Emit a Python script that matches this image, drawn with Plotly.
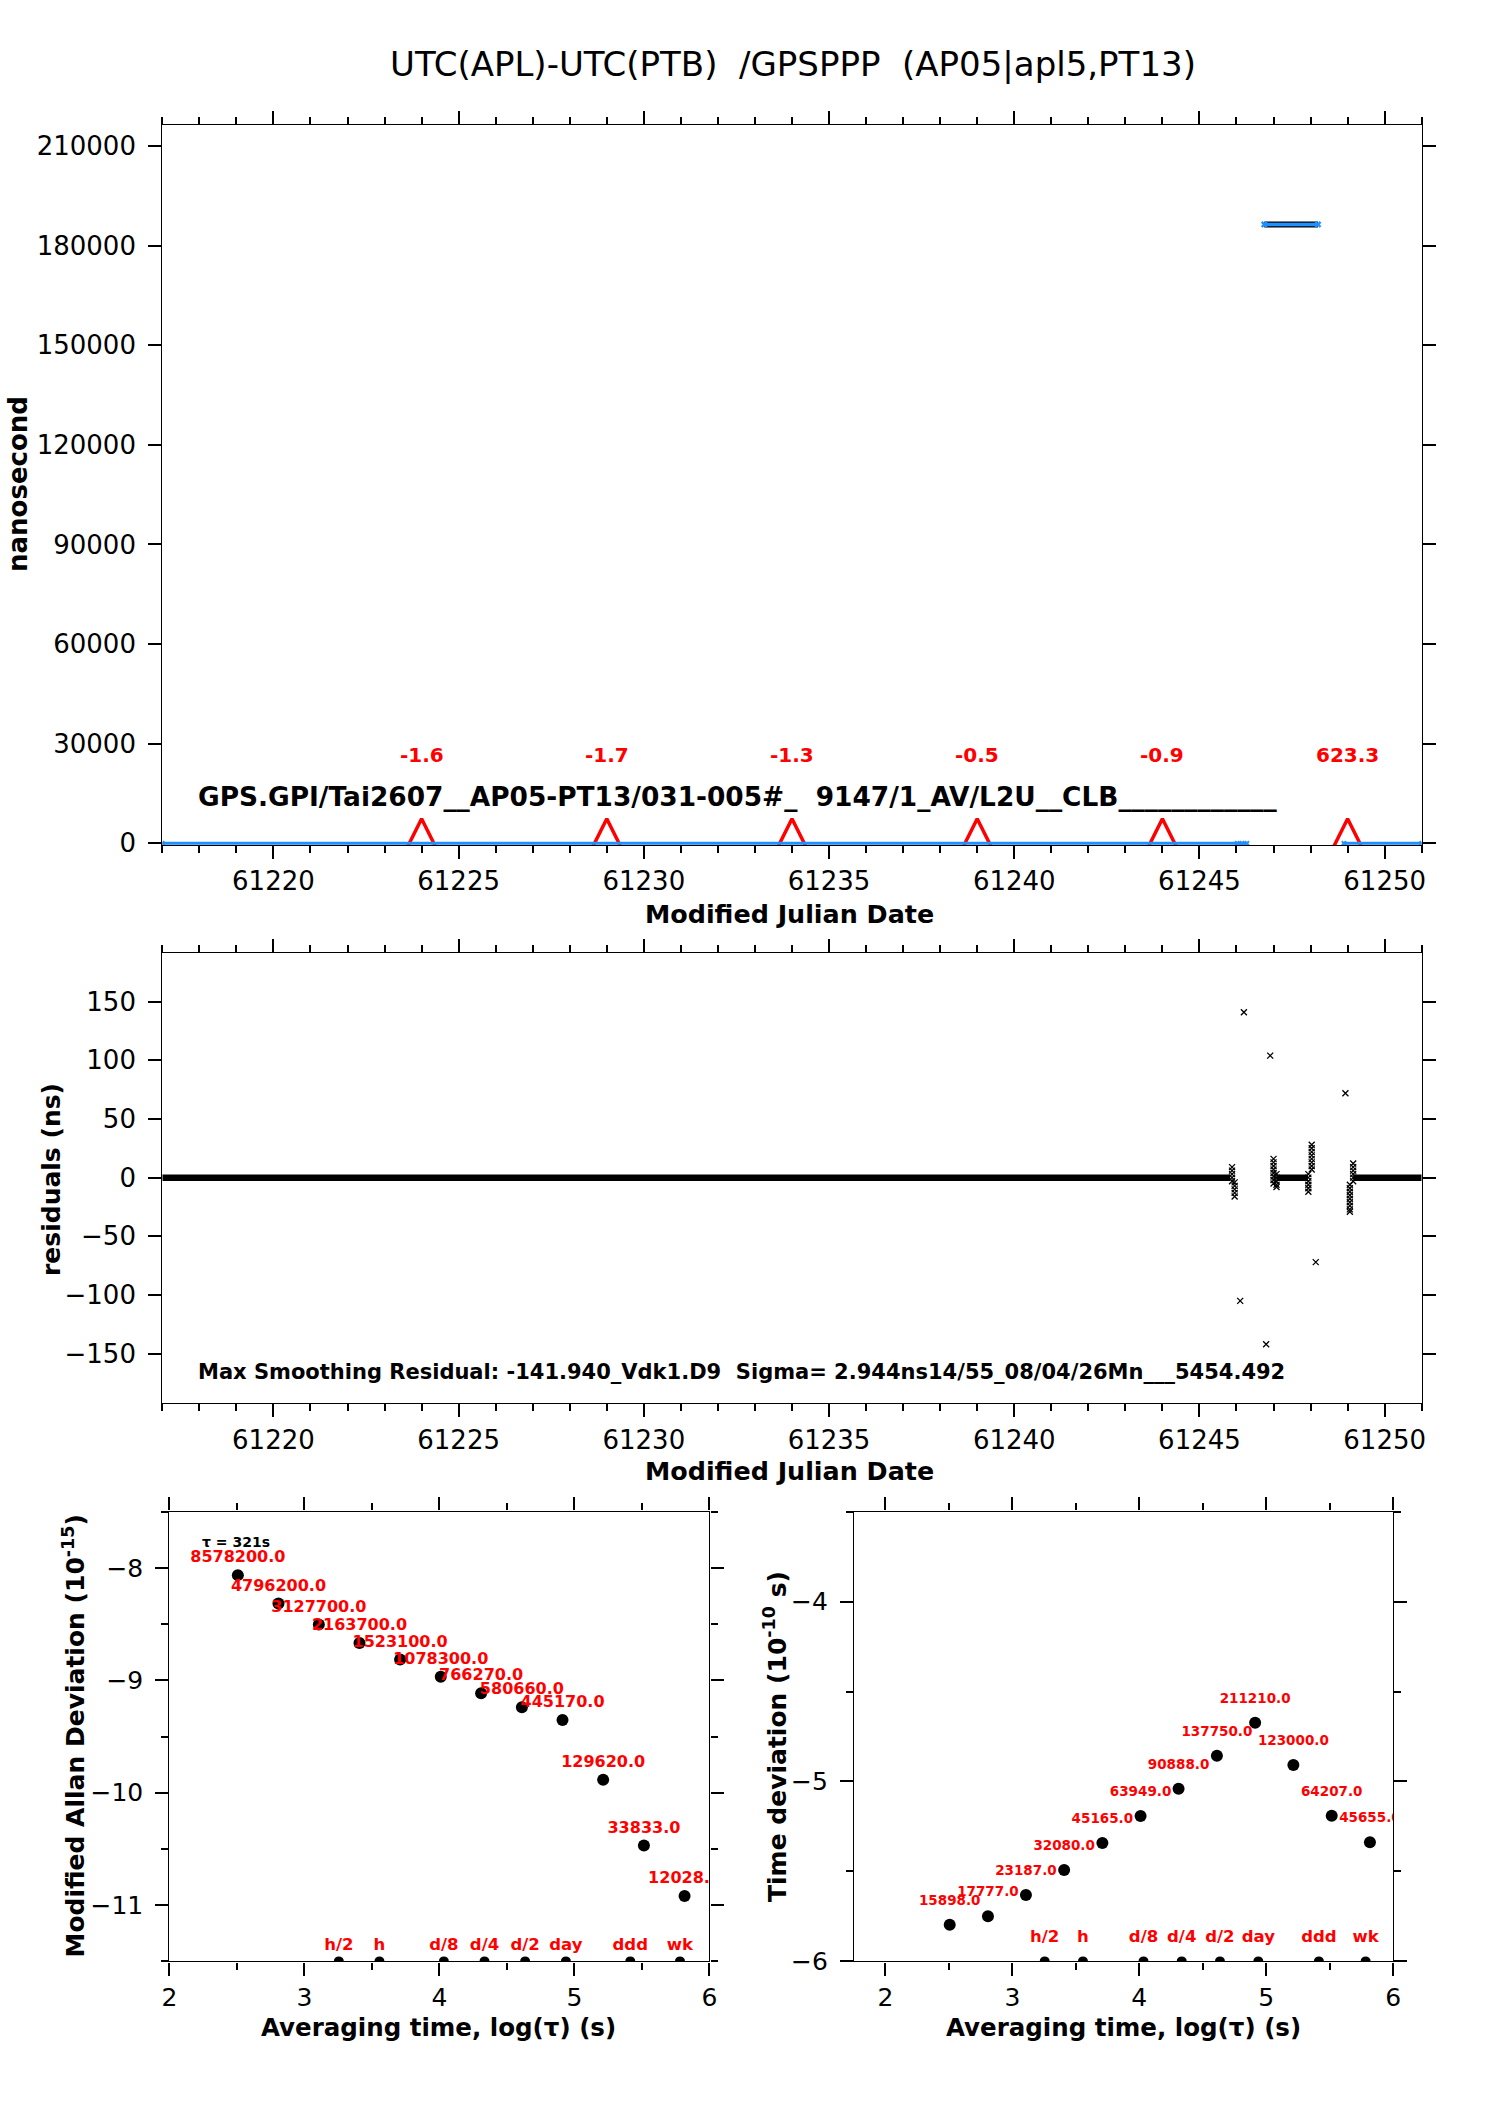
import plotly.graph_objects as go

# ------------------------------------------------------------------ data
title_text = "UTC(APL)-UTC(PTB)  /GPSPPP  (AP05|apl5,PT13)"

# top panel: UTC(APL)-UTC(PTB), ns  (None = gap)
lo_mjd = [61217.0, 61246.02, 61246.15, 61246.28, None, 61248.90, 61251.0]
lo_ns = [0, 0, 0, 0, None, 0, 0]
hi_mjd = [61246.75, 61248.20]
hi_ns = [186350, 186350]

tri_mjd = [61224, 61229, 61234, 61239, 61244, 61249]
tri_labels = ["-1.6", "-1.7", "-1.3", "-0.5", "-0.9", "623.3"]
TRI_LEVEL = 7400
TRI_LABEL_LEVEL = 26500
info_text = "GPS.GPI/Tai2607__AP05-PT13/031-005#_  9147/1_AV/L2U__CLB____________"

# residual panel, ns
res_line_mjd = [61217.0, 61245.83, None, 61247.08, 61247.93, None, 61249.15, 61251.0]
res_line_ns = [0, 0, None, 0, 0, None, 0, 0]
res_pt_mjd = ([61245.88] * 5 + [61245.95] * 5 +
              [61246.10, 61246.20, 61246.80, 61246.91] +
              [61247.00] * 8 + [61247.08] * 5 + [61247.94] * 6 +
              [61248.03] * 8 + [61248.14, 61248.94] +
              [61249.06] * 9 + [61249.15] * 6)
res_pt_ns = ([9, 6, 3, 0, -3] + [-4, -7, -10, -13, -16] +
             [-105, 141, -142, 104] +
             [16, 13, 10, 7, 4, 1, -2, -5] + [3, 0, -3, -6, -8] +
             [3, 0, -3, -6, -9, -12] +
             [28, 25, 22, 19, 16, 13, 10, 7] + [-72, 72] +
             [-6, -9, -12, -15, -18, -21, -24, -27, -29] +
             [12, 9, 6, 3, 0, -3])
res_text = "Max Smoothing Residual: -141.940_Vdk1.D9  Sigma= 2.944ns14/55_08/04/26Mn___5454.492"

# stability panels
log_tau = [2.507, 2.808, 3.107, 3.408, 3.709, 4.010, 4.309, 4.611, 4.912, 5.213, 5.515, 5.816]
adev_log = [-8.065, -8.318, -8.503, -8.668, -8.815, -8.969, -9.116, -9.240, -9.353, -9.884, -10.469, -10.918]
adev_labels = ["8578200.0", "4796200.0", "3127700.0", "2163700.0", "1523100.0", "1078300.0",
               "766270.0", "580660.0", "445170.0", "129620.0", "33833.0", "12028.0"]
tdev_log = [-5.796, -5.749, -5.631, -5.492, -5.342, -5.192, -5.040, -4.857, -4.673, -4.909, -5.190, -5.338]
tdev_labels = ["15898.0", "17777.0", "23187.0", "32080.0", "45165.0", "63949.0",
               "90888.0", "137750.0", "211210.0", "123000.0", "64207.0", "45655.0"]
span_names = ["h/2", "h", "d/8", "d/4", "d/2", "day", "ddd", "wk"]
span_log_tau = [3.255, 3.556, 4.033, 4.334, 4.635, 4.937, 5.414, 5.782]

# ------------------------------------------------------------------ style
W, H = 1488, 2105
FONT = "DejaVu Sans"
RED = "#ff0000"
BLUE = "#1e90ff"
BLACK = "#000000"

TOP_YR = [-500, 216300]
RES_YR = [-192.3, 191.2]
MJD_R = [61217, 61251]
ADEV_YR = [-11.5, -7.5]
ADEV_XR = [2, 6]
TDEV_YR = [-6, -3.5]
TDEV_XR = [1.754, 6]
ADEV_OFF = 0.15
TDEV_OFF = 0.13


def dx(a, b):
    return [a / W, b / W]


def dy(top, bot):
    return [1 - bot / H, 1 - top / H]


fig = go.Figure()

# ---- top panel
fig.add_trace(go.Scatter(x=tri_mjd, y=[TRI_LEVEL] * len(tri_mjd), mode="markers",
                         marker=dict(symbol="arrow-up-open", size=28, color=RED,
                                     line=dict(color=RED, width=3.5)),
                         xaxis="x", yaxis="y", showlegend=False, hoverinfo="skip"))
fig.add_trace(go.Scatter(x=lo_mjd, y=lo_ns, mode="lines+markers",
                         line=dict(color=BLUE, width=3),
                         marker=dict(symbol="x", size=5, color=BLUE),
                         xaxis="x", yaxis="y", showlegend=False))
fig.add_trace(go.Scatter(x=hi_mjd, y=hi_ns, mode="lines",
                         line=dict(color=BLACK, width=6),
                         xaxis="x", yaxis="y", showlegend=False))
fig.add_trace(go.Scatter(x=hi_mjd, y=hi_ns, mode="lines+markers",
                         line=dict(color=BLUE, width=3.5),
                         marker=dict(symbol="x", size=6, color=BLUE),
                         xaxis="x", yaxis="y", showlegend=False))

# ---- residual panel
fig.add_trace(go.Scatter(x=res_line_mjd, y=res_line_ns, mode="lines",
                         line=dict(color=BLACK, width=6.5),
                         xaxis="x2", yaxis="y2", showlegend=False))
fig.add_trace(go.Scatter(x=res_pt_mjd, y=res_pt_ns, mode="markers",
                         marker=dict(symbol="x-thin", size=6, color=BLACK,
                                     line=dict(color=BLACK, width=1.3)),
                         xaxis="x2", yaxis="y2", showlegend=False))

# ---- ADEV panel
fig.add_trace(go.Scatter(x=log_tau, y=adev_log, mode="markers",
                         marker=dict(size=12, color=BLACK),
                         xaxis="x3", yaxis="y3", showlegend=False))
fig.add_trace(go.Scatter(x=log_tau, y=[v + ADEV_OFF for v in adev_log], mode="text",
                         text=adev_labels, textposition="middle center",
                         textfont=dict(family=FONT, size=16, color=RED, weight="bold"),
                         cliponaxis=True, xaxis="x3", yaxis="y3", showlegend=False))
fig.add_trace(go.Scatter(x=span_log_tau, y=[ADEV_YR[0]] * len(span_log_tau), mode="markers",
                         marker=dict(size=10, color=BLACK),
                         xaxis="x3", yaxis="y3", showlegend=False))
fig.add_trace(go.Scatter(x=span_log_tau, y=[ADEV_YR[0] + 0.142] * len(span_log_tau), mode="text",
                         text=span_names, textposition="middle center",
                         textfont=dict(family=FONT, size=16.5, color=RED, weight="bold"),
                         xaxis="x3", yaxis="y3", showlegend=False))

# ---- TDEV panel
fig.add_trace(go.Scatter(x=log_tau, y=tdev_log, mode="markers",
                         marker=dict(size=12, color=BLACK),
                         xaxis="x4", yaxis="y4", showlegend=False))
fig.add_trace(go.Scatter(x=log_tau, y=[v + TDEV_OFF for v in tdev_log], mode="text",
                         text=tdev_labels, textposition="middle center",
                         textfont=dict(family=FONT, size=13.5, color=RED, weight="bold"),
                         cliponaxis=True, xaxis="x4", yaxis="y4", showlegend=False))
fig.add_trace(go.Scatter(x=span_log_tau, y=[TDEV_YR[0]] * len(span_log_tau), mode="markers",
                         marker=dict(size=10, color=BLACK),
                         xaxis="x4", yaxis="y4", showlegend=False))
fig.add_trace(go.Scatter(x=span_log_tau, y=[TDEV_YR[0] + 0.131] * len(span_log_tau), mode="text",
                         text=span_names, textposition="middle center",
                         textfont=dict(family=FONT, size=16.5, color=RED, weight="bold"),
                         xaxis="x4", yaxis="y4", showlegend=False))


def axis(domain, rng, anchor, tickfs, dtick=None, tick0=None, minor=None, fmt=None,
         tickvals=None, standoff=None):
    d = dict(domain=domain, range=rng, anchor=anchor, showgrid=False, zeroline=False,
             showline=True, linecolor=BLACK, linewidth=1.3, mirror="allticks",
             ticks="outside", ticklen=13, tickwidth=2, tickcolor=BLACK, automargin=False,
             tickfont=dict(family=FONT, size=tickfs, color=BLACK))
    if dtick is not None:
        d["dtick"] = dtick
        d["tick0"] = tick0 if tick0 is not None else 0
    if tickvals is not None:
        d["tickmode"] = "array"
        d["tickvals"] = tickvals
    if minor is not None:
        d["minor"] = dict(dtick=minor, tick0=0, ticks="outside", ticklen=7,
                          tickwidth=2, tickcolor=BLACK, showgrid=False)
    if fmt is not None:
        d["tickformat"] = fmt
    if standoff is not None:
        d["ticklabelstandoff"] = standoff
    return d


TOP_X = dx(162.3, 1421.7)
TOP_Y = dy(125, 845)
RES_Y = dy(953.3, 1403.3)
BOT_Y = dy(1511.6, 1961.4)
ADEV_X = dx(169.4, 709.4)
TDEV_X = dx(854.1, 1393.3)

fig.update_layout(
    width=W, height=H, margin=dict(l=0, r=0, t=0, b=0),
    paper_bgcolor="white", plot_bgcolor="white", showlegend=False,
    font=dict(family=FONT, color=BLACK),
    xaxis=axis(TOP_X, MJD_R, "y", 26, dtick=5, tick0=61220, minor=1, fmt="d"),
    yaxis=axis(TOP_Y, TOP_YR, "x", 26, fmt="d", standoff=7,
               tickvals=[0, 30000, 60000, 90000, 120000, 150000, 180000, 210000]),
    xaxis2=axis(TOP_X, MJD_R, "y2", 26, dtick=5, tick0=61220, minor=1, fmt="d"),
    yaxis2=axis(RES_Y, RES_YR, "x2", 26, dtick=50, tick0=0, standoff=7),
    xaxis3=axis(ADEV_X, ADEV_XR, "y3", 25, dtick=1, tick0=0, minor=0.5),
    yaxis3=axis(BOT_Y, ADEV_YR, "x3", 25, dtick=1, tick0=0, minor=0.5, standoff=7),
    xaxis4=axis(TDEV_X, TDEV_XR, "y4", 25, dtick=1, tick0=0, minor=0.5),
    yaxis4=axis(BOT_Y, TDEV_YR, "x4", 25, dtick=1, tick0=0, minor=0.5, standoff=7),
)

bold = dict(family=FONT, color=BLACK, weight="bold")
ann = []
ann.append(dict(text=title_text, xref="paper", yref="paper", x=793 / W, y=1 - 64 / H,
                xanchor="center", yanchor="middle", showarrow=False,
                font=dict(family=FONT, size=34, color=BLACK)))
for xm, lab in zip(tri_mjd, tri_labels):
    ann.append(dict(text=lab, xref="x", yref="y", x=xm, y=TRI_LABEL_LEVEL, showarrow=False,
                    xanchor="center", yanchor="middle",
                    font=dict(family=FONT, size=20, color=RED, weight="bold")))
ann.append(dict(text=info_text, xref="x", yref="y", x=61217.92, y=14100, showarrow=False,
                xanchor="left", yanchor="middle", font=dict(size=26.4, **bold)))
ann.append(dict(text=res_text, xref="x2", yref="y2", x=61217.92, y=-166, showarrow=False,
                xanchor="left", yanchor="middle", font=dict(size=21, **bold)))
ann.append(dict(text="\u03c4 = 321s", xref="x3", yref="y3", x=2.496, y=-7.767, showarrow=False,
                xanchor="center", yanchor="middle", font=dict(size=14, **bold)))

# axis titles
ann.append(dict(text="nanosecond", xref="paper", yref="paper", x=17.5 / W, y=1 - 484.5 / H,
                textangle=-90, showarrow=False, xanchor="center", yanchor="middle",
                font=dict(size=26, **bold)))
ann.append(dict(text="Modified Julian Date", xref="paper", yref="paper", x=789 / W, y=1 - 914 / H,
                showarrow=False, xanchor="center", yanchor="middle", font=dict(size=25.4, **bold)))
ann.append(dict(text="residuals (ns)", xref="paper", yref="paper", x=51 / W, y=1 - 1179 / H,
                textangle=-90, showarrow=False, xanchor="center", yanchor="middle",
                font=dict(size=25, **bold)))
ann.append(dict(text="Modified Julian Date", xref="paper", yref="paper", x=789 / W, y=1 - 1471 / H,
                showarrow=False, xanchor="center", yanchor="middle", font=dict(size=25.4, **bold)))
ann.append(dict(text="Modified Allan Deviation (10<sup>-15</sup>)", xref="paper", yref="paper",
                x=73.5 / W, y=1 - 1736 / H, textangle=-90, showarrow=False,
                xanchor="center", yanchor="middle", font=dict(size=25, **bold)))
ann.append(dict(text="Time deviation (10<sup>-10</sup> s)", xref="paper", yref="paper",
                x=775 / W, y=1 - 1737 / H, textangle=-90, showarrow=False,
                xanchor="center", yanchor="middle", font=dict(size=25, **bold)))
ann.append(dict(text="Averaging time, log(\u03c4) (s)", xref="paper", yref="paper",
                x=438 / W, y=1 - 2027 / H, showarrow=False,
                xanchor="center", yanchor="middle", font=dict(size=24.5, **bold)))
ann.append(dict(text="Averaging time, log(\u03c4) (s)", xref="paper", yref="paper",
                x=1123 / W, y=1 - 2027 / H, showarrow=False,
                xanchor="center", yanchor="middle", font=dict(size=24.5, **bold)))
fig.update_layout(annotations=ann)

fig.write_html("out.html", config={"displayModeBar": False},
               post_script="document.body.style.margin='0px';")
